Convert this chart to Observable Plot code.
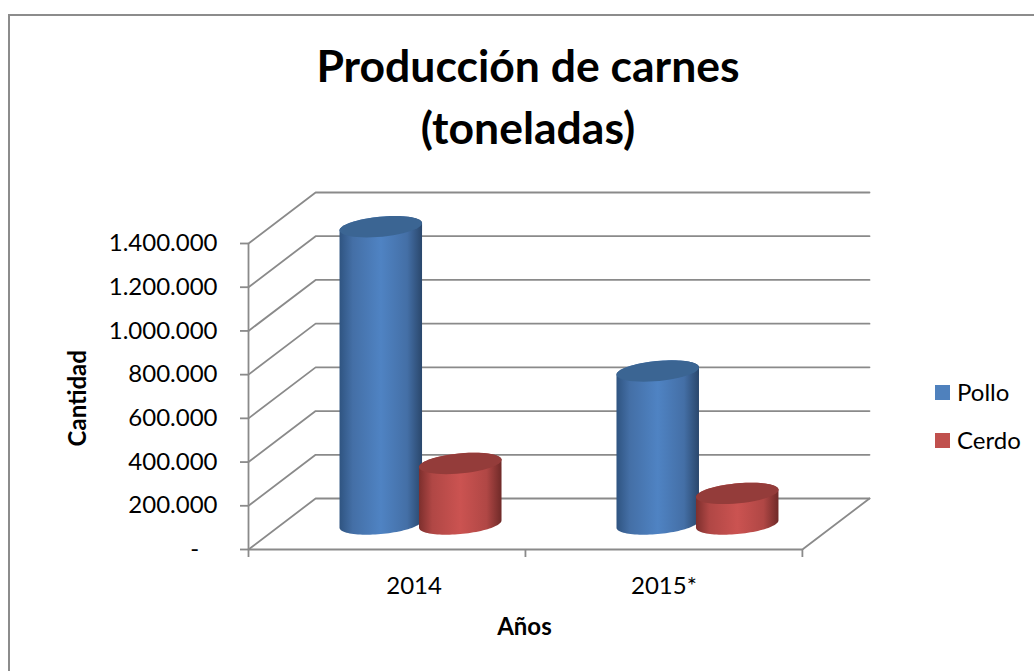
<!DOCTYPE html>
<html>
<head>
<meta charset="utf-8">
<script src="https://cdn.jsdelivr.net/npm/d3@7"></script>
<script src="https://cdn.jsdelivr.net/npm/@observablehq/plot@0.6"></script>
<style>
  html, body { margin: 0; padding: 0; background: #fff; }
  #page { position: relative; width: 1034px; height: 671px; overflow: hidden; font-family: Lato, sans-serif; color: #000; }
  #border { position: absolute; left: 8px; top: 14px; right: -10px; bottom: -10px; border: 2px solid #8c8c8c; box-sizing: border-box; }
  #title { position: relative; height: 160px; box-sizing: border-box; padding-top: 34px; margin: 0; width: 1056px; text-align: center; font-size: 44.5px; font-weight: 700; line-height: 62px; }
  #chart { position: relative; }
  #chart svg { display: block; overflow: visible; background: transparent; }
  #legend { position: absolute; left: 935px; top: 368px; font-size: 24px; line-height: 48px; }
  #legend div { display: flex; align-items: center; height: 48px; }
  #legend i { display: block; width: 15px; height: 15px; margin-right: 7px; }
</style>
</head>
<body>
<div id="page">
  <div id="border"></div>
  <h1 id="title">Producción de carnes<br>(toneladas)</h1>
  <div id="chart"></div>
  <div id="legend"></div>
</div>
<script>
// ---- data ----
const years = ["2014", "2015*"];
const yearLabelPositions = [0.598, 1.5];
const seriesNames = ["Pollo", "Cerdo"];
const pollo = [1360000, 700000];
const cerdo = [277000, 140000];
const yTicks = [0, 200000, 400000, 600000, 800000, 1000000, 1200000, 1400000];
const yTickLabels = ["-\u00a0\u00a0\u00a0", "200.000", "400.000", "600.000", "800.000", "1.000.000", "1.200.000", "1.400.000"];
const seriesColors = ["#4f81bd", "#c0504d"];
const capColors = ["#3b6593", "#943c3a"];

// ---- oblique-projection set-up, in data units ----
const depthX = 0.2423;     // horizontal shift of the back wall, in category units
const depthY = 233333;     // vertical shift of the back wall, in tonnes
const yMax = 1400000;
const xMax = years.length;
const barOffset = 0.1435;  // category-centre to cylinder-centre
const barRadius = 0.14;    // cylinder radius across the category axis
const discDepth = 0.21;    // cylinder radius as a share of the chart's depth

function discPoint(cx, v, t) {
  // point on the disc at height v; t=0 right, sin t>0 toward the back wall
  return {
    x: cx + 0.5 * depthX + barRadius * Math.cos(t) + discDepth * depthX * Math.sin(t),
    y: v + 0.5 * depthY + discDepth * depthY * Math.sin(t)
  };
}
const steps = d3.range(0, 49).map((i) => i / 48);
function cylinderBody(cx, v) {
  const t0 = Math.atan2(discDepth * depthX, barRadius); // right silhouette angle
  const bottom = steps.map((s) => discPoint(cx, 0, t0 - s * Math.PI));
  const top = steps.map((s) => discPoint(cx, v, t0 + Math.PI - s * Math.PI));
  return [...bottom, ...top];
}
function cylinderCap(cx, v) {
  return steps.map((s) => discPoint(cx, v, s * 2 * Math.PI));
}

// ---- wall, floor ----
const gridColor = "#8a8a8a";
const wallLines = yTicks.map((v) => [
  {x: 0, y: v},
  {x: depthX, y: v + depthY},
  {x: xMax + depthX, y: v + depthY}
]);
const floorEdges = [
  [{x: xMax + depthX, y: depthY}, {x: xMax, y: 0}, {x: 0, y: 0}]
];

function gradient(id, edgeL, mid1, mid2, edgeR) {
  const g = d3.create("svg:linearGradient").attr("id", id).attr("x1", 0).attr("x2", 1).attr("y1", 0).attr("y2", 0);
  [[0, edgeL], [0.16, mid1], [0.5, mid2], [0.82, mid1], [1, edgeR]].forEach(([o, c]) =>
    g.append("stop").attr("offset", o).attr("stop-color", c));
  return g.node();
}
const defsMark = () => {
  const d = d3.create("svg:defs");
  d.append(() => gradient("gradPollo", "#2f5481", "#446fa6", "#4f83c3", "#2a476c"));
  d.append(() => gradient("gradCerdo", "#7d2f2d", "#b04745", "#cb5351", "#6f2a28"));
  return d.node();
};

const cylinderMarks = [];
years.forEach((_, i) => {
  const centres = [i + 0.5 - barOffset, i + 0.5 + barOffset];
  [pollo[i], cerdo[i]].forEach((v, s) => {
    const fillId = s === 0 ? "url(#gradPollo)" : "url(#gradCerdo)";
    cylinderMarks.push(
      Plot.line(cylinderBody(centres[s], v), {x: "x", y: "y", fill: fillId, stroke: "none", curve: "linear"}),
      Plot.line(cylinderCap(centres[s], v), {x: "x", y: "y", fill: capColors[s], stroke: "none", curve: "linear"})
    );
  });
});

const strokeW = 1.8;
const plot = Plot.plot({
  width: 1034,
  height: 511,
  marginLeft: 248,
  marginRight: 165,
  marginTop: 32,
  marginBottom: 122,
  style: {fontFamily: "Lato, sans-serif", background: "transparent", color: "#000"},
  x: {domain: [0, xMax + depthX], axis: null},
  y: {domain: [0, yMax + depthY], axis: null},
  marks: [
    defsMark,
    ...wallLines.map((l) => Plot.line(l, {x: "x", y: "y", stroke: gridColor, strokeWidth: strokeW, curve: "linear"})),
    ...floorEdges.map((l) => Plot.line(l, {x: "x", y: "y", stroke: gridColor, strokeWidth: strokeW, curve: "linear"})),
    Plot.ruleX([0], {y1: 0, y2: yMax, stroke: gridColor, strokeWidth: strokeW}),
    Plot.axisY({
      ticks: yTicks,
      tickSize: 8,
      tickPadding: 23,
      stroke: gridColor,
      strokeWidth: strokeW,
      fontSize: 24,
      label: null,
      tickFormat: (d) => yTickLabels[yTicks.indexOf(d)]
    }),
    Plot.axisX({
      ticks: d3.range(0, xMax + 1),
      tickSize: 8,
      stroke: gridColor,
      strokeWidth: strokeW,
      label: null,
      tickFormat: () => ""
    }),
    Plot.axisX({
      ticks: yearLabelPositions,
      tickSize: 0,
      tickPadding: 27,
      fontSize: 24,
      label: null,
      tickFormat: (d) => years[yearLabelPositions.indexOf(d)]
    }),
    ...cylinderMarks,
    Plot.text(["Años"], {x: () => xMax / 2, y: () => 0, dy: 78, dx: -1, text: (d) => d, fontSize: 24, fontWeight: 700, fill: "#000"}),
    Plot.text(["Cantidad"], {x: () => 0, y: () => yMax / 2 - 8000, dx: -170, rotate: -90, text: (d) => d, fontSize: 24, fontWeight: 700, fill: "#000"})
  ]
});
document.getElementById("chart").appendChild(plot);

const legend = document.getElementById("legend");
seriesNames.forEach((name, i) => {
  const row = document.createElement("div");
  const sw = document.createElement("i");
  sw.style.background = seriesColors[i];
  const label = document.createElement("span");
  label.textContent = name;
  row.append(sw, label);
  legend.appendChild(row);
});
</script>
</body>
</html>
